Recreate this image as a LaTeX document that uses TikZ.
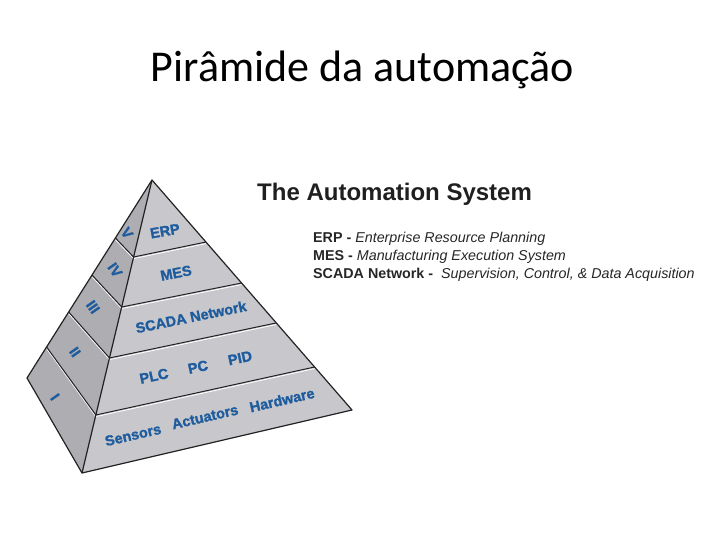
\documentclass[tikz,border=0pt]{standalone}
\usepackage{fontspec}
\setmainfont{Liberation Sans}
\newfontfamily\calib{Carlito}
\newfontfamily\heavy{Liberation Sans Bold}[FakeBold=1.3]
\definecolor{frontgray}{HTML}{C8C8CC}
\definecolor{leftgray}{HTML}{ADADB2}
\definecolor{edgedark}{HTML}{222222}
\definecolor{lblue}{HTML}{1E5C9E}
\begin{document}
\begin{tikzpicture}[x=1pt,y=-1pt,
  edge/.style={draw=edgedark,line width=1.2pt,line join=round},
  hl/.style={draw=white,line width=0.8pt},
  lbl/.style={text=lblue,font=\heavy\fontsize{14.5}{16}\selectfont,inner sep=0pt},
  rom/.style={lbl,rotate=-55},
  leg/.style={anchor=base west,inner sep=0pt,text=black!85,font=\fontsize{14.3}{16}\selectfont}]
\useasboundingbox (0,0) rectangle (720,540);

% main title
\node[anchor=base,inner sep=0pt,font=\calib\fontsize{44}{50}\selectfont] (title) at (362.5,81.5) {Pirâmide da automação};

% pyramid corners
\coordinate (A) at (152,180);
\coordinate (F) at (82,473);
\coordinate (R) at (352,410);
\coordinate (L) at (27,378);
% front edge points
\coordinate (f1) at (133.6,257);
\coordinate (f2) at (121.7,307);
\coordinate (f3) at (109.5,358);
\coordinate (f4) at (95.9,415);
% right edge points
\coordinate (r1) at (206,242);
\coordinate (r2) at (241.6,283);
\coordinate (r3) at (276,323);
\coordinate (r4) at (314.6,367);
% left edge points
\coordinate (l1) at (115.4,238);
\coordinate (l2) at (92,275);
\coordinate (l3) at (68.7,312);
\coordinate (l4) at (46.6,347);

% faces
\fill[frontgray] (A) -- (F) -- (R) -- cycle;
\fill[leftgray] (A) -- (L) -- (F) -- cycle;

% highlights below layer lines
\foreach \a/\b in {f1/r1,f2/r2,f3/r3,f4/r4}
  \draw[hl] ([yshift=-1.6pt]\a) -- ([yshift=-1.6pt]\b);
\foreach \a/\b in {l1/f1,l2/f2,l3/f3,l4/f4}
  \draw[hl] ([yshift=-1.6pt]\a) -- ([yshift=-1.6pt]\b);

% layer lines
\foreach \a/\b in {f1/r1,f2/r2,f3/r3,f4/r4,l1/f1,l2/f2,l3/f3,l4/f4}
  \draw[edge,line width=1pt] (\a) -- (\b);

% outline
\draw[edge] (A) -- (L) -- (F) -- (R) -- cycle;
\draw[edge] (A) -- (F);

% front labels
\node[lbl,rotate=10] (erp) at (165,231) {ERP};
\node[lbl,rotate=11] (mes) at (176,273) {MES};
\node[lbl,rotate=11.5] (scada) at (191,317) {SCADA Network};
\node[lbl,rotate=12] (plc) at (154,376) {PLC};
\node[lbl,rotate=12] (pc) at (198,367) {PC};
\node[lbl,rotate=12] (pid) at (240,358) {PID};
\node[lbl,rotate=13] (sens) at (133,435) {Sensors};
\node[lbl,rotate=13] (act) at (205,417) {Actuators};
\node[lbl,rotate=13] (hw) at (282,400) {Hardware};

% left labels
\node[rom] (v) at (127,233) {V};
\node[rom] (iv) at (115,270) {IV};
\node[rom] (iii) at (93,307) {III};
\node[rom] (ii) at (75,352) {II};
\node[rom] (i) at (55,397) {I};

% right text
\node[anchor=base west,inner sep=0pt,text=black!88,font=\bfseries\fontsize{24}{28}\selectfont] (sys) at (257,200.5) {The Automation System};
\node[leg] (l1t) at (313,242) {\textbf{ERP -} \textit{Enterprise Resource Planning}};
\node[leg] (l2t) at (313,260) {\textbf{MES -} \textit{Manufacturing Execution System}};
\node[leg] (l3t) at (313,278) {\textbf{SCADA Network -}\ \ \textit{Supervision, Control, \& Data Acquisition}};
\end{tikzpicture}
\end{document}
